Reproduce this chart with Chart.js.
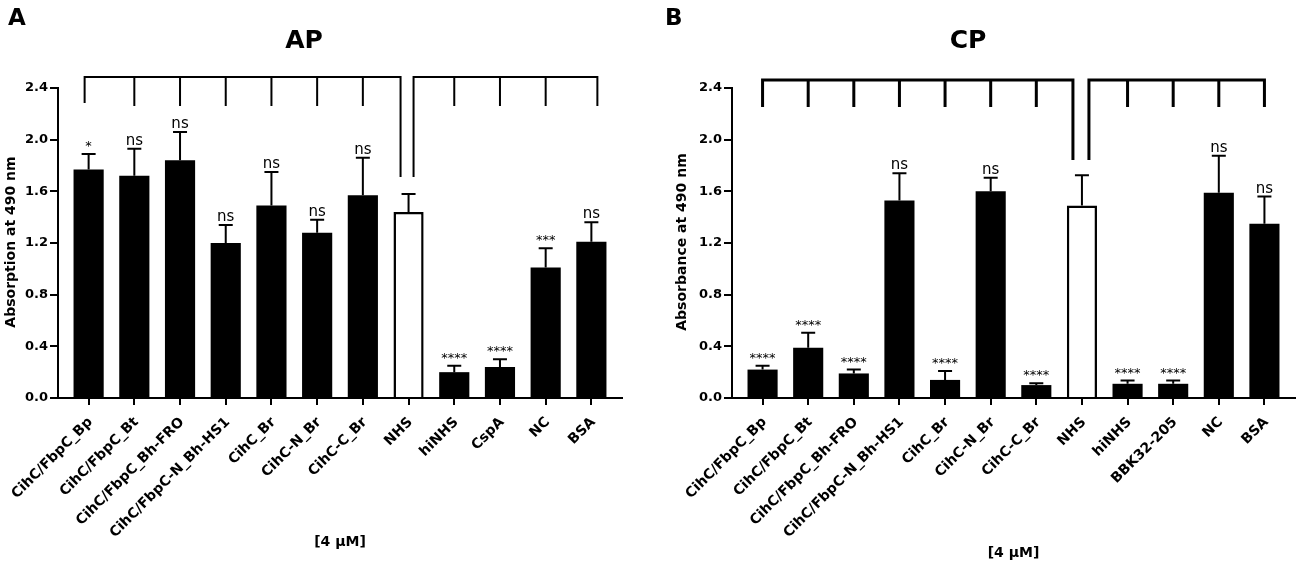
<!DOCTYPE html>
<html><head><meta charset="utf-8">
<script src="https://cdn.jsdelivr.net/npm/chart.js@4.4.1/dist/chart.umd.min.js"></script>
<style>
html,body{margin:0;padding:0;background:#fff;width:1299px;height:569px;overflow:hidden}
.p{position:absolute;top:0;height:569px}
#wa{left:0;width:650px}
#wb{left:650px;width:649px}
</style></head><body>
<div class="p" id="wa"><canvas id="ca"></canvas></div>
<div class="p" id="wb"><canvas id="cb"></canvas></div>
<script>
// ---- data ----
const catsA = ['CihC/FbpC_Bp','CihC/FbpC_Bt','CihC/FbpC_Bh-FRO','CihC/FbpC-N_Bh-HS1','CihC_Br','CihC-N_Br','CihC-C_Br','NHS','hiNHS','CspA','NC','BSA'];
const meanA = [1.77, 1.72, 1.84, 1.20, 1.49, 1.28, 1.57, 1.44, 0.20, 0.24, 1.01, 1.21];
const errA  = [0.12, 0.21, 0.22, 0.14, 0.26, 0.10, 0.29, 0.14, 0.05, 0.06, 0.15, 0.15];
const sigA  = ['*','ns','ns','ns','ns','ns','ns','','****','****','***','ns'];

const catsB = ['CihC/FbpC_Bp','CihC/FbpC_Bt','CihC/FbpC_Bh-FRO','CihC/FbpC-N_Bh-HS1','CihC_Br','CihC-N_Br','CihC-C_Br','NHS','hiNHS','BBK32-205','NC','BSA'];
const meanB = [0.22, 0.39, 0.19, 1.53, 0.14, 1.60, 0.10, 1.49, 0.11, 0.11, 1.59, 1.35];
const errB  = [0.03, 0.115, 0.03, 0.21, 0.07, 0.105, 0.015, 0.235, 0.025, 0.025, 0.285, 0.21];
const sigB  = ['****','****','****','ns','****','ns','****','','****','****','ns','ns'];

const yTicks = [0, 0.4, 0.8, 1.2, 1.6, 2.0, 2.4];
const xLabel = '[4 μM]';
// ---------------

const FONT = "'DejaVu Sans', sans-serif";
Chart.defaults.font.family = FONT;
Chart.defaults.color = '#000';

function makeChart(id, p) {
  const overlay = {
    id: 'overlay',
    afterDatasetsDraw(chart) {
      const ctx = chart.ctx, ys = chart.scales.y, xs = chart.scales.x;
      const meta = chart.getDatasetMeta(0);
      ctx.save();
      ctx.strokeStyle = '#000'; ctx.fillStyle = '#000'; ctx.lineWidth = 2;
      meta.data.forEach((bar, i) => {
        const x = bar.x, yb = bar.y, yc = ys.getPixelForValue(p.mean[i] + p.err[i]);
        ctx.beginPath();
        ctx.moveTo(x, yb); ctx.lineTo(x, yc);
        ctx.moveTo(x - 7, yc); ctx.lineTo(x + 7, yc);
        ctx.stroke();
        const s = p.sig[i];
        if (s) {
          ctx.font = (s === 'ns' ? '15px ' : '13px ') + FONT;
          ctx.textAlign = 'center'; ctx.textBaseline = 'alphabetic';
          ctx.fillText(s, x, yc - 4);
        }
      });
      // brackets
      const top = chart.chartArea.top, b = p.br;
      const px = i => xs.getPixelForValue(i);
      const n = p.cats.indexOf('NHS'), last = p.cats.length - 1;
      const hy = top + b.hy, te = top + b.te, ne = top + b.ne, le = top + b.le;
      ctx.lineWidth = b.lw; ctx.lineCap = 'butt'; ctx.lineJoin = 'miter';
      ctx.beginPath();
      ctx.moveTo(px(0) + b.e0, le); ctx.lineTo(px(0) + b.e0, hy);
      ctx.lineTo(px(n) + b.nl, hy); ctx.lineTo(px(n) + b.nl, ne);
      for (let i = 1; i < n; i++) { ctx.moveTo(px(i), hy); ctx.lineTo(px(i), te); }
      ctx.moveTo(px(n) + b.nr, ne); ctx.lineTo(px(n) + b.nr, hy);
      ctx.lineTo(px(last) + b.e1, hy); ctx.lineTo(px(last) + b.e1, te);
      for (let i = n + 1; i < last; i++) { ctx.moveTo(px(i), hy); ctx.lineTo(px(i), te); }
      ctx.stroke();
      ctx.restore();
    },
    afterDraw(chart) {
      const ctx = chart.ctx, ca = chart.chartArea;
      ctx.save();
      ctx.fillStyle = '#000';
      ctx.textBaseline = 'alphabetic';
      ctx.textAlign = 'left';
      ctx.font = 'bold 23px ' + FONT;
      ctx.fillText(p.letter, p.letterX, 25);
      ctx.textAlign = 'center';
      ctx.font = 'bold 25px ' + FONT;
      ctx.fillText(p.title, p.titleX, 48);
      ctx.font = 'bold 14px ' + FONT;
      ctx.textBaseline = 'middle';
      ctx.fillText(xLabel, (ca.left + ca.right) / 2, p.xtY);
      ctx.translate(p.ytX, 242);
      ctx.rotate(-Math.PI / 2);
      ctx.font = 'bold 14px ' + FONT;
      ctx.fillText(p.ytitle, 0, 0);
      ctx.restore();
    }
  };
  return new Chart(document.getElementById(id), {
    type: 'bar',
    data: {
      datasets: [{
        data: p.mean.map((v, i) => ({ x: i, y: v })),
        backgroundColor: p.cats.map(c => c === 'NHS' ? '#ffffff' : '#000000'),
        borderColor: '#000',
        borderWidth: p.cats.map(c => c === 'NHS' ? 2.5 : 0),
        barPercentage: 0.66,
        categoryPercentage: 1
      }]
    },
    options: {
      responsive: true, maintainAspectRatio: false, animation: false,
      devicePixelRatio: 1,
      layout: { padding: { left: 0, right: p.padR, top: 88, bottom: 0 } },
      plugins: { legend: { display: false }, tooltip: { enabled: false } },
      scales: {
        x: {
          type: 'linear', min: -0.67, max: p.cats.length - 1 + 0.67, offset: false,
          afterBuildTicks: s => { s.ticks = p.cats.map((_, i) => ({ value: i })); },
          afterFit: s => { s.height = 171; s.paddingLeft = 0; s.paddingRight = 0; },
          grid: { offset: false, drawOnChartArea: false, drawTicks: true, tickLength: 7, color: '#000', lineWidth: 2 },
          border: { color: '#000', width: 2 },
          ticks: {
            autoSkip: false, minRotation: 45, maxRotation: 45, padding: 9, labelOffset: 2,
            font: { size: 14, weight: 'bold' }, color: '#000',
            callback: v => p.cats[v]
          }
        },
        y: {
          min: 0, max: 2.4,
          afterBuildTicks: s => { s.ticks = yTicks.map(v => ({ value: v })); },
          afterFit: s => { s.width = p.yw; },
          grid: { drawOnChartArea: false, drawTicks: true, tickLength: 8, color: '#000', lineWidth: 2 },
          border: { color: '#000', width: 2 },
          ticks: { padding: 2, font: { size: 13, weight: 'bold' }, color: '#000', callback: v => v.toFixed(1) }
        }
      }
    },
    plugins: [overlay]
  });
}

makeChart('ca', {
  cats: catsA, mean: meanA, err: errA, sig: sigA,
  padR: 28, yw: 58, letter: 'A', letterX: 8, title: 'AP', titleX: 304,
  xtY: 542, ytX: 11, ytitle: 'Absorption at 490 nm',
  br: { hy: -11, te: 18, ne: 89, le: 15, lw: 2, e0: -4, e1: 6, nl: -8, nr: 5 }
});
makeChart('cb', {
  cats: catsB, mean: meanB, err: errB, sig: sigB,
  padR: 4, yw: 82, letter: 'B', letterX: 15, title: 'CP', titleX: 318,
  xtY: 553, ytX: 32, ytitle: 'Absorbance at 490 nm',
  br: { hy: -8, te: 19, ne: 72, le: 19, lw: 3, e0: 0, e1: 0, nl: -9, nr: 7 }
});
</script>
</body></html>
